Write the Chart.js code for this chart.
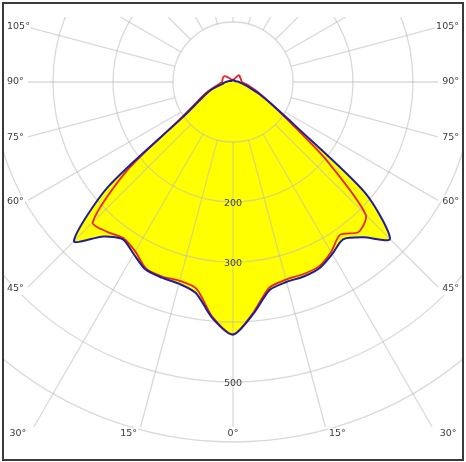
<!DOCTYPE html>
<html>
<head>
<meta charset="utf-8">
<title>Lichtstärkeverteilung</title>
<script src="https://cdn.jsdelivr.net/npm/chart.js"></script>
<style>
    html, body { margin: 0; padding: 0; background: #fff; }
    #frame {
        position: absolute; left: 2px; top: 2px;
        width: 462px; height: 459px;
        box-sizing: border-box;
        border: 2px solid #3a3a3a;
        overflow: hidden;
    }
    /* 840x840 radar, centre placed at page (233, 82) */
    #wrap { position: absolute; left: -191px; top: -342px; width: 840px; height: 840px; }
</style>
</head>
<body>
<div id="frame"><div id="wrap"><canvas id="polar"></canvas></div></div>
<script>
// gamma angles in 5° steps, 0° = straight down, 180° = straight up
const gammaSteps = [0, 5, 10, 15, 20, 25, 30, 35, 40, 45, 50, 55, 60, 65, 70, 75, 80, 85, 90,
    95, 100, 105, 110, 115, 120, 125, 130, 135, 140, 145, 150, 155, 160, 165, 170, 175, 180];

// C0-C180 plane (blue outline, yellow fill), cd/klm
const c0Left  = [421, 395, 357, 348, 347, 345, 331, 320, 336, 375, 272, 102, 68, 52, 39, 26, 18, 15, 12,
    10, 8, 6, 5, 4, 4, 3, 3, 3, 3, 3, 3, 3, 3, 3, 3, 3, 3];
const c0Right = [421, 388, 352, 345, 345, 342, 331, 320, 338, 370, 288, 126, 75, 50, 32, 22, 16, 12, 10,
    8, 6, 5, 4, 4, 3, 3, 3, 3, 3, 3, 3, 3, 3, 3, 3, 3, 3];

// C90-C270 plane (red outline)
const c90Left  = [421, 393, 350, 343, 345, 343, 326, 318, 326, 331, 233, 108, 73, 56, 43, 32, 25, 21, 18,
    18, 18, 18, 18, 18, 18, 17, 14, 10, 7, 5, 4, 4, 4, 4, 4, 4, 4];
const c90Right = [421, 386, 348, 341, 341, 339, 327, 311, 326, 313, 205, 115, 75, 54, 40, 30, 23, 18, 15,
    14, 14, 14, 14, 14, 14, 14, 15, 15, 15, 11, 7, 5, 4, 4, 4, 4, 4];

// labelled angles and labelled rings
const angleTicks = [0, 15, 30, 45, 60, 75, 90, 105];
const ringLabels = [200, 300, 500];

// radar goes clockwise from the bottom: left half first, then right half back down
const radarLabels = gammaSteps.concat(gammaSteps.slice(1, -1).reverse());
const blueData = c0Left.concat(c0Right.slice(1, -1).reverse());
const redData = c90Left.concat(c90Right.slice(1, -1).reverse());

const gridColor = 'rgba(185, 185, 185, 0.55)';
const textColor = '#3c3c3c';
const labelFont = '9.5px "DejaVu Sans", Verdana, sans-serif';

// unit direction of a radar index
function dirOf(scale, index) {
    const p = scale.getPointPosition(index, 100);
    return { x: (p.x - scale.xCenter) / 100, y: (p.y - scale.yCenter) / 100 };
}

// angle lines start at the 100 ring and stop short of the edge labels
function angleDash(ctx) {
    const s = ctx.chart.scales.r;
    const start = s.getDistanceFromCenterForValue(100);
    const d = dirOf(s, ctx.index);
    let end = s.drawingArea;
    if (d.x < -1e-6) end = Math.min(end, -205 / d.x);
    if (d.x > 1e-6) end = Math.min(end, 205 / d.x);
    if (d.y > 1e-6) end = Math.min(end, 345 / d.y);
    return [0, start, Math.max(end - start, 0), 3000];
}

const decor = {
    id: 'decor',
    beforeDraw(chart) {
        const ctx = chart.ctx;
        const s = chart.scales.r;
        ctx.save();
        ctx.beginPath();
        ctx.rect(0, s.yCenter - 65, chart.width, chart.height);
        ctx.clip();
    },
    afterDraw(chart) {
        const ctx = chart.ctx;
        ctx.restore();
        const s = chart.scales.r;
        const cx = s.xCenter, cy = s.yCenter;
        ctx.save();
        ctx.font = labelFont;
        ctx.fillStyle = textColor;
        ctx.textBaseline = 'middle';

        // ring values along the 0° axis
        ctx.textAlign = 'center';
        ringLabels.forEach(v => {
            ctx.fillText(String(v), cx, cy + s.getDistanceFromCenterForValue(v) + 2);
        });

        // angle labels at the frame edge
        angleTicks.forEach(g => {
            const idxs = [radarLabels.indexOf(g)];
            if (radarLabels.lastIndexOf(g) !== idxs[0]) idxs.push(radarLabels.lastIndexOf(g));
            idxs.forEach(idx => {
                const d = dirOf(s, idx);
                let x, y, align;
                if (g <= 30) {
                    const t = 358 / d.y;
                    x = cx + d.x * t;
                    y = cy + 352;
                    align = d.x < -0.01 ? 'right' : (d.x > 0.01 ? 'left' : 'center');
                } else {
                    const t = 207 / Math.abs(d.x);
                    y = cy + d.y * t;
                    x = d.x < 0 ? cx - 226 : cx + 226;
                    align = d.x < 0 ? 'left' : 'right';
                }
                const text = g + '°';
                const w = ctx.measureText(text).width;
                const left = align === 'left' ? x : (align === 'right' ? x - w : x - w / 2);
                ctx.fillStyle = '#fff';
                ctx.fillRect(left - 1, y - 6, w + 2, 12);
                ctx.fillStyle = textColor;
                ctx.textAlign = align;
                ctx.fillText(text, x, y);
            });
        });
        ctx.restore();
    }
};

new Chart(document.getElementById('polar'), {
    type: 'radar',
    data: {
        labels: radarLabels,
        datasets: [{
            label: 'C0-C180',
            data: blueData,
            borderColor: '#1d1d9e',
            borderWidth: 2,
            backgroundColor: '#ffff00',
            fill: 'origin',
            pointRadius: 0,
            tension: 0.25
        }, {
            label: 'C90-C270',
            data: redData,
            borderColor: '#e8261c',
            borderWidth: 1.8,
            fill: false,
            pointRadius: 0,
            tension: 0.25
        }]
    },
    options: {
        responsive: true,
        maintainAspectRatio: false,
        animation: false,
        layout: { padding: 0 },
        plugins: {
            legend: { display: false },
            tooltip: { enabled: false },
            filler: { drawTime: 'beforeDraw' }
        },
        scales: {
            r: {
                min: 0,
                max: 700,
                startAngle: 180,
                ticks: { display: false, stepSize: 100 },
                pointLabels: { display: false },
                grid: {
                    circular: true,
                    color: c => (c.tick && c.tick.value > 600) ? 'rgba(0,0,0,0)' : gridColor,
                    lineWidth: 1.3
                },
                angleLines: {
                    color: gridColor,
                    lineWidth: c => (Number(c.label) % 15 === 0 ? 1.3 : 0),
                    borderDash: angleDash
                }
            }
        }
    },
    plugins: [decor]
});
</script>
</body>
</html>
